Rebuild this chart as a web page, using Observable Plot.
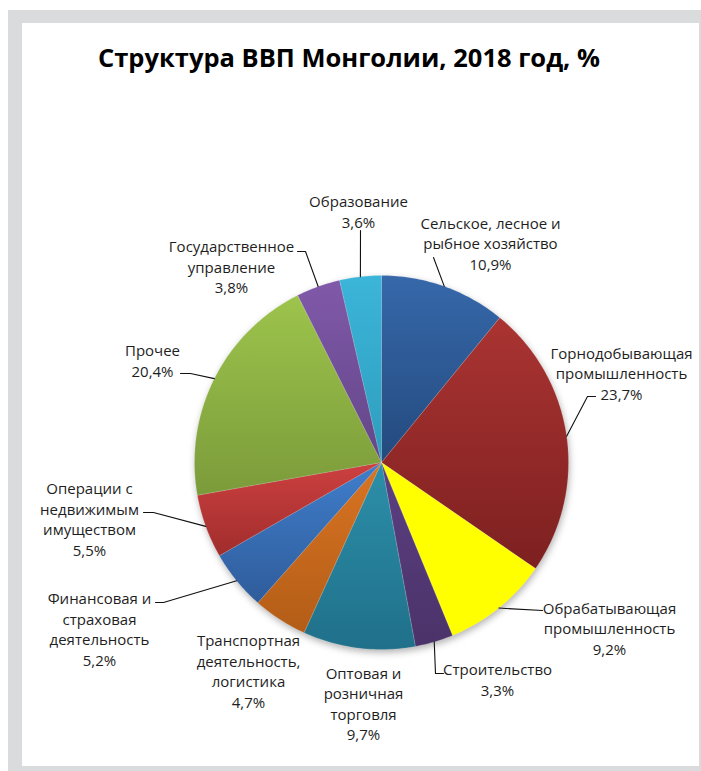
<!DOCTYPE html>
<html><head><meta charset="utf-8">
<script src="https://cdn.jsdelivr.net/npm/d3@7"></script>
<script src="https://cdn.jsdelivr.net/npm/@observablehq/plot@0.6"></script>
<style>
body{margin:0;background:#fff;}
#wrap{position:relative;width:701px;height:771px;overflow:hidden;font-family:"Open Sans",sans-serif;}
#frame{position:absolute;left:8px;top:10px;width:693px;height:761px;background:#d9dbdc;}
#inner{position:absolute;left:22px;top:23px;width:677px;height:743px;background:#fff;}
#title{position:absolute;left:0px;width:698px;top:40px;margin:0;text-align:center;font-weight:700;font-size:25.5px;line-height:normal;color:#000;font-family:"Open Sans",sans-serif;}
#chart{position:absolute;left:0;top:0;}
</style></head>
<body><div id="wrap"><div id="frame"></div><div id="inner"></div><h1 id="title">Структура ВВП Монголии, 2018 год, %</h1><div id="chart"></div></div>
<script>
// ---- data ----
const sectors = ["Сельское, лесное и рыбное хозяйство","Горнодобывающая промышленность","Обрабатывающая промышленность","Строительство","Оптовая и розничная торговля","Транспортная деятельность, логистика","Финансовая и страховая деятельность","Операции с недвижимым имуществом","Прочее","Государственное управление","Образование"];
const shares = [10.9, 23.7, 9.2, 3.3, 9.7, 4.7, 5.2, 5.5, 20.4, 3.8, 3.6];
const labelLines = ["Сельское, лесное и\nрыбное хозяйство","Горнодобывающая\nпромышленность","Обрабатывающая\nпромышленность","Строительство","Оптовая и\nрозничная\nторговля","Транспортная\nдеятельность,\nлогистика","Финансовая и\nстраховая\nдеятельность","Операции с\nнедвижимым\nимуществом","Прочее","Государственное\nуправление","Образование"];
const topColors = ["#3668aa","#aa3432","#ffff00","#5c3f82","#2c8fa9","#d97423","#407ecb","#cd4040","#9dc44c","#8059a9","#3bb5d9"];
const bottomColors = ["#244a7e","#7d2020","#ffff00","#4b3369","#20708a","#b35d17","#2f5c9b","#a02d2c","#7b9b3a","#634688","#2e9dbd"];

// ---- layout (pixels) ----
const cx = 381, cy = 462, R = 187;
const labelLayout = [
  {x:490, y:242, lead:[[433,257]]},
  {x:621, y:372, lead:[[595,396],[587,396]]},
  {x:609, y:627, lead:[[542,610]]},
  {x:497, y:678.5, lead:[[443,673],[435,673]]},
  {x:363, y:702.5, lead:null},
  {x:248, y:670, lead:null},
  {x:99, y:628, lead:[[155,602],[163,602]]},
  {x:89, y:518, lead:[[143,512],[153,512]]},
  {x:152, y:359.5, lead:[[180,373],[190,373]]},
  {x:231, y:265.5, lead:[[297,251],[305,251]]},
  {x:358, y:210.5, lead:[[360,230]]}
];

const fmt = v => v.toFixed(1).replace(".", ",") + "%";
const total = d3.sum(shares);
let cum = 0;
const slices = shares.map((v, i) => {
  const a0 = cum / total * 2 * Math.PI; cum += v;
  const a1 = cum / total * 2 * Math.PI;
  return {i, name: sectors[i], value: v, a0, a1, mid: (a0 + a1) / 2};
});
const polar = (a, r = R) => ({x: cx + r * Math.sin(a), y: cy - r * Math.cos(a)});
function slicePoints(s) {
  const n = Math.max(2, Math.ceil((s.a1 - s.a0) * 180 / Math.PI));
  const pts = [{x: cx, y: cy}];
  for (let k = 0; k <= n; k++) pts.push(polar(s.a0 + (s.a1 - s.a0) * k / n));
  pts.push({x: cx, y: cy});
  return pts;
}
const circlePts = d3.range(0, 361, 2).map(d => polar(d * Math.PI / 180));

const labels = slices.map(s => ({x: labelLayout[s.i].x, y: labelLayout[s.i].y, text: labelLines[s.i] + "\n" + fmt(s.value)}));
const leaders = [];
slices.forEach(s => {
  const L = labelLayout[s.i].lead;
  if (!L) return;
  L.forEach(p => leaders.push({k: s.i, x: p[0], y: p[1]}));
  const e = polar(s.mid);
  leaders.push({k: s.i, x: e.x, y: e.y});
});

const chart = Plot.plot({
  width: 701, height: 771, margin: 0,
  style: {background: "transparent"},
  x: {domain: [0, 701], range: [0, 701], axis: null},
  y: {domain: [0, 771], range: [0, 771], axis: null},
  marks: [
    Plot.line(circlePts, {x: "x", y: "y", fill: "#000", fillOpacity: 0.3, stroke: "none", dx: 1, dy: 3, ariaDescription: "pie-shadow"}),
    ...slices.map(s => Plot.line(slicePoints(s), {x: "x", y: "y", fill: topColors[s.i], stroke: "#ffffff", strokeOpacity: 0.25, strokeWidth: 0.6, ariaDescription: "slice-" + s.i})),
    Plot.line(leaders, {x: "x", y: "y", z: "k", stroke: "#111", strokeWidth: 1.1}),
    Plot.text(labels, {x: "x", y: "y", text: "text", lineAnchor: "middle", textAnchor: "middle", fontSize: 15, lineHeight: 1.37, fill: "#1e1e1e", fontFamily: "Open Sans"})
  ]
});

// gradients and shadow filter
const svg = d3.select(chart);
const defs = svg.insert("defs", ":first-child");
slices.forEach(s => {
  const g = defs.append("linearGradient").attr("id", "grad" + s.i)
    .attr("x1", 0).attr("y1", 0).attr("x2", 0).attr("y2", 1);
  g.append("stop").attr("offset", 0).attr("stop-color", topColors[s.i]);
  g.append("stop").attr("offset", 1).attr("stop-color", bottomColors[s.i]);
  svg.selectAll(`g[aria-description="slice-${s.i}"], g[aria-description="slice-${s.i}"] path`).attr("fill", `url(#grad${s.i})`);
});
defs.append("filter").attr("id", "pieShadow")
  .attr("x", "-20%").attr("y", "-20%").attr("width", "140%").attr("height", "140%")
  .append("feGaussianBlur").attr("stdDeviation", 3.5);
svg.select('g[aria-description="pie-shadow"]').attr("filter", "url(#pieShadow)");
document.getElementById("chart").appendChild(chart);
</script>
</body></html>
